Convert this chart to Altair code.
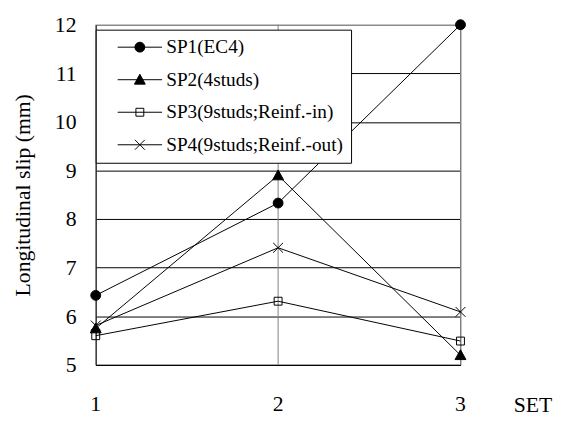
import altair as alt
import pandas as pd

# ---- data ----
sets = [1, 2, 3]
series_names = [
    "SP1(EC4)",
    "SP2(4studs)",
    "SP3(9studs;Reinf.-in)",
    "SP4(9studs;Reinf.-out)",
]
sp1 = [6.43, 8.33, 12.0]
sp2 = [5.75, 8.90, 5.20]
sp3 = [5.60, 6.31, 5.49]
sp4 = [5.81, 7.41, 6.09]
x_ticks = [1, 2, 3]
x_tick_labels = ["1", "2", "3"]
y_ticks = [5, 6, 7, 8, 9, 10, 11, 12]

rows = []
for name, vals in zip(series_names, [sp1, sp2, sp3, sp4]):
    for s, v in zip(sets, vals):
        rows.append({"set": s, "slip": v, "series": name})
df = pd.DataFrame(rows)
df_legend = pd.DataFrame({"series": series_names})
df_xticks = pd.DataFrame({"set": x_ticks, "label": x_tick_labels})

FONT = "Liberation Serif"

# marker symbols (unit coords, scaled by sqrt(size)/2)
marker_paths = [
    "M1,0A1,1 0 1,1 -1,0A1,1 0 1,1 1,0Z",
    "M0,-1.1L1.1,0.9L-1.1,0.9Z",
    "M-0.8,-0.8H0.8V0.8H-0.8Z",
    "M-1,-1L1,1M-1,1L1,-1",
]
legend_paths = [
    "M0.9,0H9.9M6.4,0A1,1 0 1,1 4.4,0A1,1 0 1,1 6.4,0Z",
    "M0.9,0H9.9M5.4,-1.1L6.5,0.9L4.3,0.9Z",
    "M0.9,0H9.9M4.6,-0.8H6.2V0.8H4.6Z",
    "M0.9,0H9.9M4.4,-1L6.4,1M4.4,1L6.4,-1",
]
fills = ["black", "black", "transparent", "transparent"]
strokes = ["black", "black", "black", "black"]

x_axis = alt.Axis(
    values=x_ticks, ticks=False, labels=False,
    domainColor="black", domainWidth=1, grid=False,
    title="SET", titleFont=FONT, titleFontSize=22, titleFontWeight="normal",
    titleColor="black", titleX=443, titleY=47, titleBaseline="alphabetic",
    titleAlign="center", titleAngle=0,
)
y_axis = alt.Axis(
    values=y_ticks, format="d", ticks=False, labelPadding=20,
    labelFont=FONT, labelFontSize=22, labelColor="black", labelFlush=False,
    labelOverlap=False,
    domainColor="black", domainWidth=1,
    grid=True,
    gridColor=alt.condition("datum.value == 12", alt.value("#808080"), alt.value("black")),
    gridOpacity=1, gridWidth=1,
    title="Longitudinal slip (mm)", titleFont=FONT, titleFontSize=22,
    titleFontWeight="normal", titleColor="black", titlePadding=20,
)

x_scale = alt.Scale(domain=[1, 3], nice=False, zero=False)
y_scale = alt.Scale(domain=[5, 12], nice=False, zero=False)
x_enc = alt.X("set:Q", scale=x_scale, axis=x_axis)
y_enc = alt.Y("slip:Q", scale=y_scale, axis=y_axis)

xgrid = alt.Chart(df_xticks).mark_rule(color="#808080", strokeWidth=1).encode(x=x_enc)

xlabels = alt.Chart(df_xticks).mark_text(
    font=FONT, fontSize=22, color="black", baseline="alphabetic", align="center"
).encode(x=x_enc, y=alt.value(392), text="label:N")

lines = alt.Chart(df).mark_line(color="black", strokeWidth=1).encode(
    x=x_enc, y=y_enc, detail="series:N", order="set:Q"
)

points = alt.Chart(df).mark_point(
    filled=True, stroke="black", strokeWidth=1, size=100, opacity=1
).encode(
    x=x_enc, y=y_enc,
    shape=alt.Shape("series:N", scale=alt.Scale(domain=series_names, range=marker_paths), legend=None),
    fill=alt.Fill("series:N", scale=alt.Scale(domain=series_names, range=fills), legend=None),
)

leg = alt.Legend(
    orient="none", legendX=0, legendY=5, title=None, padding=8, rowPadding=12,
    labelOffset=44, labelFont=FONT, labelFontSize=19.5, labelColor="black",
    labelLimit=400, fillColor="white", strokeColor="black",
    symbolSize=100, symbolStrokeWidth=1, symbolOpacity=1,
)

legend_layer = alt.Chart(df_legend).mark_point(
    filled=False, strokeWidth=1, size=100, opacity=1
).encode(
    x=alt.value(-3000), y=alt.value(-3000),
    shape=alt.Shape("series:N", scale=alt.Scale(domain=series_names, range=legend_paths), legend=leg),
    fill=alt.Fill("series:N", scale=alt.Scale(domain=series_names, range=fills), legend=leg),
    stroke=alt.Stroke("series:N", scale=alt.Scale(domain=series_names, range=strokes), legend=leg),
)

chart = alt.layer(xgrid, xlabels, lines, points, legend_layer).resolve_scale(
    shape="independent", fill="independent", stroke="independent"
).properties(
    width=370, height=345,
    padding={"left": 89, "top": 14, "right": 105, "bottom": 56},
    autosize=alt.AutoSizeParams(type="none"),
    background="white",
).configure_view(
    stroke="#808080", strokeWidth=1
).configure_legend(
    labelFont=FONT, labelFontSize=19.5, labelColor="black"
)

chart.save("out.html", embed_options={"renderer": "svg", "actions": False})
